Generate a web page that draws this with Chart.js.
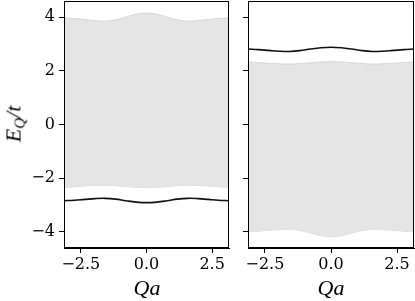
<!DOCTYPE html>
<html lang="en">
<head>
  <meta charset="UTF-8" />
  <title>Band energies</title>
  <style>
    body {
      margin: 0;
      background: #fff;
      width: 415px;
      height: 301px;
      position: relative;
      overflow: hidden;
      font-family: 'Liberation Serif', 'DejaVu Serif', serif;
    }
    canvas { position: absolute; top: 0; }
    #leftChart { left: 0; }
    #rightChart { left: 236px; }
    .lab {
      position: absolute;
      font-style: italic;
      font-size: 22px;
      color: #000;
      white-space: nowrap;
      line-height: 1;
    }
    #ylab {
      left: 15px;
      top: 124px;
      transform: translate(-50%, -50%) rotate(-90deg);
    }
    #ylab sub { font-size: 15px; vertical-align: -4px; }
    #xlab1 { left: 147px; top: 288px; transform: translate(-50%, -50%); }
    #xlab2 { left: 331px; top: 288px; transform: translate(-50%, -50%); }
  </style>
</head>
<body>
  <canvas id="leftChart" width="232" height="301"></canvas>
  <canvas id="rightChart" width="179" height="301"></canvas>
  <div class="lab" id="ylab">E<sub>Q</sub>/t</div>
  <div class="lab" id="xlab1">Qa</div>
  <div class="lab" id="xlab2">Qa</div>

  <script src="https://cdn.jsdelivr.net/npm/chart.js"></script>
  <script>
    // momentum grid (Qa from -pi to pi)
    const qa = [-3.1416, -2.7489, -2.3562, -1.9635, -1.5708, -1.1781, -0.7854, -0.3927, 0,
                0.3927, 0.7854, 1.1781, 1.5708, 1.9635, 2.3562, 2.7489, 3.1416];

    // left panel: continuum edges and bound state
    const leftUpper = [3.97, 3.95, 3.91, 3.87, 3.85, 3.90, 4.00, 4.11, 4.15, 4.11, 4.00, 3.90, 3.85, 3.87, 3.91, 3.95, 3.97];
    const leftLower = [-2.34, -2.32, -2.29, -2.27, -2.26, -2.28, -2.31, -2.34, -2.35, -2.34, -2.31, -2.28, -2.26, -2.27, -2.29, -2.32, -2.34];
    const leftBound = [-2.84, -2.82, -2.79, -2.76, -2.75, -2.78, -2.84, -2.89, -2.91, -2.89, -2.84, -2.78, -2.75, -2.76, -2.79, -2.82, -2.84];

    // right panel
    const rightUpper = [2.33, 2.31, 2.28, 2.26, 2.25, 2.27, 2.30, 2.33, 2.34, 2.33, 2.30, 2.27, 2.25, 2.26, 2.28, 2.31, 2.33];
    const rightLower = [-4.00, -3.97, -3.94, -3.92, -3.91, -3.95, -4.04, -4.14, -4.18, -4.14, -4.04, -3.95, -3.91, -3.92, -3.94, -3.97, -4.00];
    const rightBound = [2.81, 2.79, 2.76, 2.73, 2.72, 2.75, 2.81, 2.86, 2.88, 2.86, 2.81, 2.75, 2.72, 2.73, 2.76, 2.79, 2.81];

    const xTicks = [-2.5, 0, 2.5];
    const yTicks = [-4, -2, 0, 2, 4];

    const bandFill = 'rgb(229,229,229)';
    const bandEdge = 'rgb(214,214,214)';
    const tickFont = { family: "'DejaVu Serif', 'Liberation Serif', serif", size: 16 };

    const pts = arr => qa.map((x, i) => ({ x: x, y: arr[i] }));
    const minus = s => String(s).replace('-', '\u2212');

    // draw the top and right spines too
    const frame = {
      id: 'frame',
      afterDraw(chart) {
        const a = chart.chartArea, c = chart.ctx;
        c.save();
        c.strokeStyle = '#000';
        c.lineWidth = 1;
        c.strokeRect(a.left + 0.5, a.top + 0.5, a.right - a.left - 1, a.bottom - a.top - 1);
        c.restore();
      }
    };

    function makePanel(id, upper, lower, bound, showYLabels, yWidth, pad) {
      new Chart(document.getElementById(id), {
        type: 'line',
        data: {
          datasets: [
            { data: pts(upper), borderColor: bandEdge, backgroundColor: bandFill, borderWidth: 1, fill: '+1', order: 2 },
            { data: pts(lower), borderColor: bandEdge, borderWidth: 1, fill: false, order: 2 },
            { data: pts(bound), borderColor: '#111', borderWidth: 1.6, fill: false, order: 1 }
          ]
        },
        options: {
          responsive: false,
          devicePixelRatio: 1,
          animation: false,
          layout: { padding: pad },
          elements: { point: { radius: 0 }, line: { tension: 0.4 } },
          plugins: { legend: { display: false }, tooltip: { enabled: false } },
          scales: {
            x: {
              type: 'linear',
              min: -3.1416,
              max: 3.1416,
              afterBuildTicks: s => { s.ticks = xTicks.map(v => ({ value: v })); },
              afterFit: s => { s.height = 53; s.paddingLeft = 0; s.paddingRight = 0; },
              grid: { drawOnChartArea: false, drawTicks: true, tickLength: 5, color: '#000' },
              border: { display: true, color: '#000' },
              ticks: { color: '#000', font: tickFont, padding: 2, maxRotation: 0,
                       callback: v => minus(v.toFixed(1)) }
            },
            y: {
              type: 'linear',
              min: -4.6,
              max: 4.6,
              afterBuildTicks: s => { s.ticks = yTicks.map(v => ({ value: v })); },
              afterFit: s => { s.width = yWidth; s.paddingTop = 0; s.paddingBottom = 0; },
              grid: { drawOnChartArea: false, drawTicks: true, tickLength: 5, color: '#000' },
              border: { display: true, color: '#000' },
              ticks: { display: showYLabels, color: '#000', font: tickFont, padding: 4,
                       callback: v => minus(v) }
            }
          }
        },
        plugins: [frame]
      });
    }

    makePanel('leftChart', leftUpper, leftLower, leftBound, true, 64, { top: 1, right: 3, bottom: 0, left: 0 });
    makePanel('rightChart', rightUpper, rightLower, rightBound, false, 12, { top: 1, right: 1, bottom: 0, left: 0 });
  </script>
</body>
</html>
